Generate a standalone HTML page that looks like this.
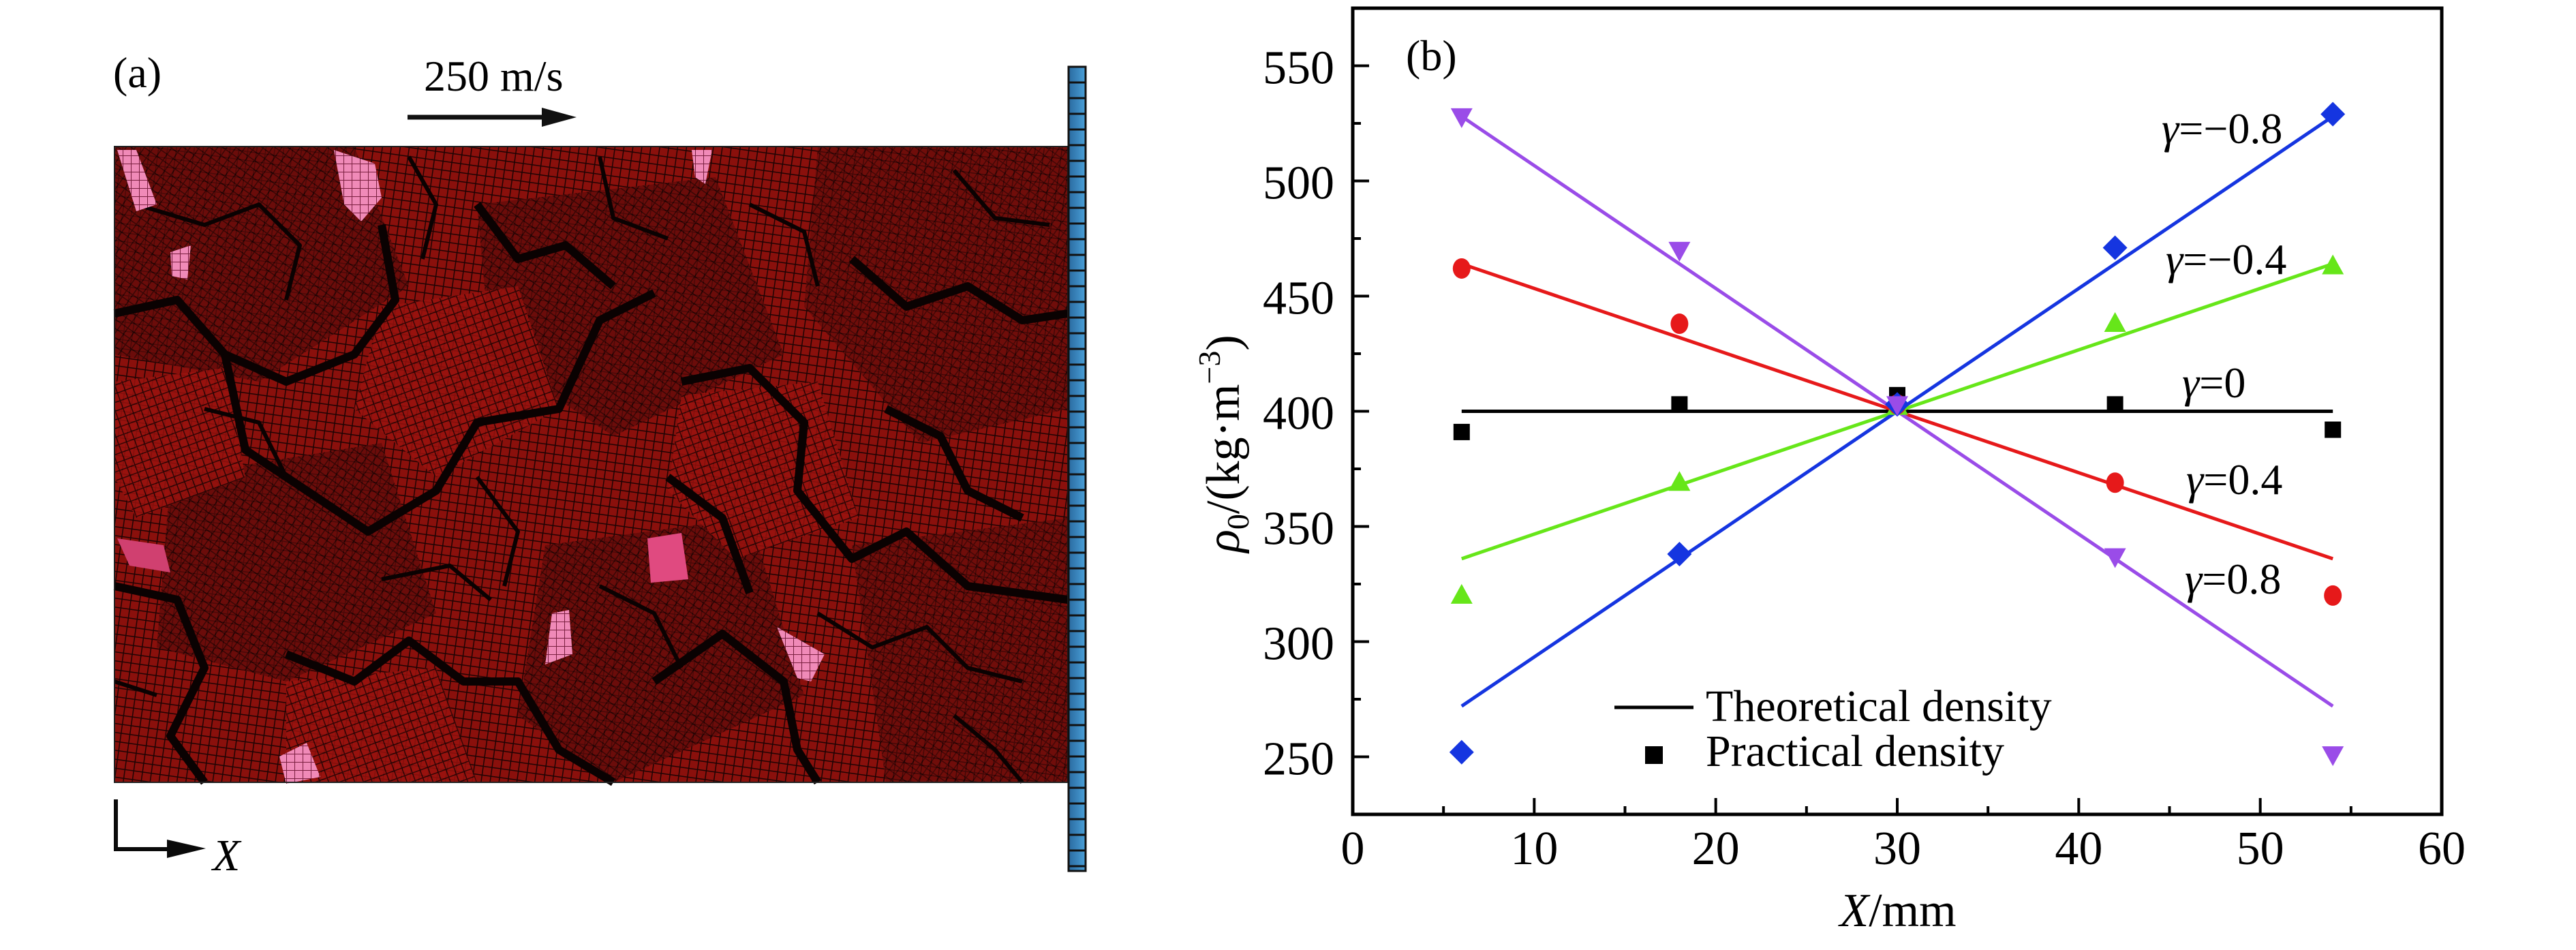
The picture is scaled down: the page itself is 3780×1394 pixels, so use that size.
<!DOCTYPE html>
<html><head><meta charset="utf-8"><style>
html,body{margin:0;padding:0;background:#fff;}
svg{display:block;font-family:"Liberation Serif",serif;}
</style></head><body>
<svg id="fig" width="3780" height="1394" viewBox="0 0 3780 1394" xmlns="http://www.w3.org/2000/svg">
<defs>
<pattern id="mesh" width="13" height="13" patternUnits="userSpaceOnUse" patternTransform="rotate(8)">
<rect width="13" height="13" fill="#8a100c"/>
<path d="M0 0H13M0 0V13" stroke="#1e0404" stroke-width="3"/>
</pattern>
<pattern id="mesh2" width="11" height="11" patternUnits="userSpaceOnUse" patternTransform="rotate(35)">
<rect width="11" height="11" fill="#5e0b09"/>
<path d="M0 0H11M0 0V11" stroke="#160303" stroke-width="3"/>
</pattern>
<pattern id="mesh3" width="12" height="12" patternUnits="userSpaceOnUse" patternTransform="rotate(-20)">
<rect width="12" height="12" fill="#9c120e"/>
<path d="M0 0H12M0 0V12" stroke="#1e0404" stroke-width="3"/>
</pattern>
<pattern id="pinkmesh" width="12" height="12" patternUnits="userSpaceOnUse">
<rect width="12" height="12" fill="#f08ab8"/>
<path d="M0 0H12M0 0V12" stroke="#7a2040" stroke-width="2"/>
</pattern>
<linearGradient id="bar" x1="0" x2="1"><stop offset="0" stop-color="#2a6aa0"/><stop offset="1" stop-color="#4aa0d8"/></linearGradient>
</defs>

<!-- Panel (a) -->
<g>
<text x="166" y="128" font-size="64">(a)</text>
<text x="622" y="133" font-size="64">250 m/s</text>
<g>
<line x1="598" y1="172" x2="800" y2="172" stroke="#111" stroke-width="7"/>
<polygon points="795,158 846,172 795,186" fill="#111"/>
</g>
<g>
<rect x="168" y="215" width="1399" height="933" fill="url(#mesh)"/>
<polygon points="168,215 520,215 600,420 380,560 168,520" fill="url(#mesh2)" opacity="0.7"/>
<polygon points="700,300 1050,260 1150,520 900,640 720,520" fill="url(#mesh2)" opacity="0.7"/>
<polygon points="1200,215 1567,215 1567,600 1350,650 1180,450" fill="url(#mesh2)" opacity="0.6"/>
<polygon points="250,700 560,650 640,900 420,1000 230,950" fill="url(#mesh2)" opacity="0.7"/>
<polygon points="800,800 1100,760 1180,1020 900,1148 760,1050" fill="url(#mesh2)" opacity="0.7"/>
<polygon points="1250,800 1567,760 1567,1148 1300,1148" fill="url(#mesh2)" opacity="0.6"/>
<polygon points="560,450 760,420 820,600 640,700 520,600" fill="url(#mesh3)" opacity="0.8"/>
<polygon points="1000,580 1200,560 1260,760 1080,820 980,720" fill="url(#mesh3)" opacity="0.8"/>
<polygon points="168,560 330,540 360,700 200,760 168,700" fill="url(#mesh3)" opacity="0.8"/>
<polygon points="420,1000 640,980 700,1148 420,1148" fill="url(#mesh3)" opacity="0.8"/>
<g fill="none" stroke="#0a0202" stroke-width="12" stroke-linejoin="round">
<path d="M168 460 L260 440 L330 520 L420 560 L520 520 L580 440 L560 330"/>
<path d="M330 520 L360 660 L450 720 L540 780 L640 720 L700 620 L820 600 L880 470 L960 430"/>
<path d="M420 960 L520 1000 L600 940 L680 1000 L760 1000 L820 1100 L900 1148"/>
<path d="M1000 560 L1100 540 L1180 620 L1170 720 L1250 820 L1330 780 L1420 860 L1567 880"/>
<path d="M960 1000 L1060 930 L1150 1000 L1170 1100 L1200 1148"/>
<path d="M168 860 L260 880 L300 980 L250 1080 L300 1148"/>
<path d="M1250 380 L1330 450 L1420 420 L1500 470 L1567 460"/>
<path d="M700 300 L760 380 L830 360 L900 420"/>
<path d="M980 700 L1060 760 L1100 870"/>
<path d="M1300 600 L1380 640 L1420 720 L1500 760"/>
</g>
<g fill="none" stroke="#0a0202" stroke-width="6" stroke-linejoin="round">
<path d="M200 300 L300 330 L380 300 L440 360 L420 440"/>
<path d="M600 230 L640 300 L620 380"/>
<path d="M880 230 L900 320 L980 350"/>
<path d="M1100 300 L1180 340 L1200 420"/>
<path d="M1400 250 L1460 320 L1540 330"/>
<path d="M560 850 L660 830 L720 880"/>
<path d="M1200 900 L1280 950 L1360 920 L1420 980 L1500 1000"/>
<path d="M168 1000 L230 1020"/>
<path d="M700 700 L760 780 L740 860"/>
<path d="M880 860 L960 900 L1000 980"/>
<path d="M1400 1050 L1460 1100 L1500 1148"/>
<path d="M300 600 L380 620 L420 700"/>
</g>
<polygon points="172,220 200,220 230,300 200,310" fill="url(#pinkmesh)"/>
<polygon points="490,220 550,240 560,290 530,325 505,300" fill="url(#pinkmesh)"/>
<polygon points="1015,220 1045,220 1035,270 1020,260" fill="url(#pinkmesh)"/>
<polygon points="950,790 1000,782 1010,850 955,855" fill="#e04a80"/>
<polygon points="810,900 835,895 840,960 800,975" fill="url(#pinkmesh)"/>
<polygon points="1140,920 1210,960 1190,1000 1170,995" fill="url(#pinkmesh)"/>
<polygon points="410,1120 450,1100 470,1150 420,1160" fill="url(#pinkmesh)" transform="translate(0,-10)"/>
<polygon points="172,790 240,800 250,840 190,830" fill="#d04070"/>
<polygon points="250,370 280,360 275,410 252,405" fill="url(#pinkmesh)"/>
<rect x="168" y="215" width="1399" height="933" fill="none" stroke="#222" stroke-width="2"/>
</g>
<g>
<rect x="1568" y="98" width="25" height="1180" fill="url(#bar)" stroke="#111" stroke-width="3"/>
<path id="wallLines" stroke="#111" stroke-width="3"/>
</g>
<g>
<path d="M170 1173 V1246 H250" fill="none" stroke="#0a0a0a" stroke-width="6"/>
<polygon points="245,1232 302,1245 245,1259" fill="#0a0a0a"/>
<text x="312" y="1277" font-size="66" font-style="italic">X</text>
</g>
</g>

<!-- Panel (b) -->
<g id="chart">
<g id="series"></g>
<rect x="1985" y="12" width="1598" height="1183" fill="none" stroke="#000" stroke-width="5"/>
<text x="2063" y="103" font-size="64">(b)</text>
<g id="ticks"></g>
<g>
<line x1="2369" y1="1038" x2="2485" y2="1038" stroke="#000" stroke-width="5"/>
<text x="2503" y="1058" font-size="66">Theoretical density</text>
<rect x="2414" y="1095" width="26" height="26" fill="#000"/>
<text x="2503" y="1124" font-size="66">Practical density</text>
</g>
<text x="2785" y="1359" font-size="70" text-anchor="middle"><tspan font-style="italic">X</tspan>/mm</text>
<text transform="translate(1818,651) rotate(-90)" font-size="70" text-anchor="middle"><tspan font-style="italic">ρ</tspan><tspan font-size="46" dy="14">0</tspan><tspan dy="-14">/(kg·m</tspan><tspan font-size="46" dy="-28">−3</tspan><tspan dy="28">)</tspan></text>
</g>
</svg>
<script>
// chart data
const xPositions = [6, 18, 30, 42, 54];
const gammaLabels = ["γ=−0.8", "γ=−0.4", "γ=0", "γ=0.4", "γ=0.8"];
const gammaValues = [-0.8, -0.4, 0, 0.4, 0.8];
const practicalNeg08 = [252, 338, 403, 471, 529];
const practicalNeg04 = [320, 369, 402, 438, 463];
const practicalZero = [391, 403, 407, 403, 392];
const practicalPos04 = [462, 438, 403, 369, 320];
const practicalPos08 = [528, 470, 403, 337, 251];
const theoryStart = [272, 336, 400, 464, 528];
const theoryEnd = [528, 464, 400, 336, 272];
const xTicks = [0, 10, 20, 30, 40, 50, 60];
const yTicks = [250, 300, 350, 400, 450, 500, 550];

const NS = "http://www.w3.org/2000/svg";
const L = 1985, R = 3583, T = 12, B = 1195;
const xMin = 0, xMax = 60, yMin = 225, yMax = 575;
function sx(v){ return L + (v - xMin) / (xMax - xMin) * (R - L); }
function sy(v){ return B - (v - yMin) / (yMax - yMin) * (B - T); }
function mk(tag, attrs, parent){ const e = document.createElementNS(NS, tag); for (const k in attrs) e.setAttribute(k, attrs[k]); parent.appendChild(e); return e; }

(function(){
  let d = ""; for (let y = 98 + 23; y < 1278; y += 23) d += "M1568 " + y + "H1593";
  document.getElementById("wallLines").setAttribute("d", d);
})();

const ticksG = document.getElementById("ticks");
xTicks.forEach(function(t){
  const ln = mk("line", {x1: sx(t), x2: sx(t), y1: B, y2: B - 24, stroke: "#000", "stroke-width": 4}, ticksG);
  
  
  const tx = mk("text", {x: sx(t), y: 1268, "font-size": 70, "text-anchor": "middle"}, ticksG);
  tx.textContent = t;
  
  
  if (t < 60) {
    const m = mk("line", {x1: sx(t + 5), x2: sx(t + 5), y1: B, y2: B - 12, stroke: "#000", "stroke-width": 4}, ticksG);
    
    
  }
});
yTicks.forEach(function(t){
  const ln = mk("line", {x1: L, x2: L + 24, y1: sy(t), y2: sy(t), stroke: "#000", "stroke-width": 4}, ticksG);
  
  
  const tx = mk("text", {x: 1958, y: sy(t) + 26, "font-size": 70, "text-anchor": "end"}, ticksG);
  tx.textContent = t;
  
  
  const m = mk("line", {x1: L, x2: L + 12, y1: sy(t + 25), y2: sy(t + 25), stroke: "#000", "stroke-width": 4}, ticksG);
  
  
});

const colors = ["#1535e0", "#66e619", "#000000", "#e6191a", "#9a4ce8"];
const shapes = ["diamond", "triangle", "square", "circle", "invtriangle"];
const practical = [practicalNeg08, practicalNeg04, practicalZero, practicalPos04, practicalPos08];
const names = ["neg08", "neg04", "zero", "pos04", "pos08"];
const labelPos = [[3172, 210], [3178, 402], [3202, 583], [3208, 725], [3206, 871]];
const seriesG = document.getElementById("series");

function marker(shape, cx, cy, color, parent){
  let e;
  if (shape === "diamond") e = mk("polygon", {points: [cx, cy - 18, cx + 18, cy, cx, cy + 18, cx - 18, cy].join(","), fill: color}, parent);
  else if (shape === "triangle") e = mk("polygon", {points: [cx, cy - 17, cx + 16, cy + 12, cx - 16, cy + 12].join(","), fill: color}, parent);
  else if (shape === "invtriangle") e = mk("polygon", {points: [cx - 16, cy - 12, cx + 16, cy - 12, cx, cy + 17].join(","), fill: color}, parent);
  else if (shape === "square") e = mk("rect", {x: cx - 12, y: cy - 12, width: 24, height: 24, fill: color}, parent);
  else e = mk("ellipse", {cx: cx, cy: cy, rx: 13, ry: 15, fill: color}, parent);
  return e;
}

[2, 1, 3, 0, 4].forEach(function(i){
  const ln = mk("line", {x1: sx(xPositions[0]), y1: sy(theoryStart[i]), x2: sx(xPositions[4]), y2: sy(theoryEnd[i]), stroke: colors[i], "stroke-width": 5}, seriesG);
  
  
});
[2, 1, 3, 0, 4].forEach(function(i){
  practical[i].forEach(function(v, j){
    const e = marker(shapes[i], sx(xPositions[j]), sy(v), colors[i], seriesG);
    
    
  });
});
gammaLabels.forEach(function(lbl, i){
  const t = mk("text", {x: labelPos[i][0], y: labelPos[i][1], "font-size": 64}, seriesG);
  const g = mk("tspan", {"font-style": "italic"}, t); g.textContent = "γ";
  const r = mk("tspan", {}, t); r.textContent = lbl.slice(1);
  
  
});
</script>
</body></html>
